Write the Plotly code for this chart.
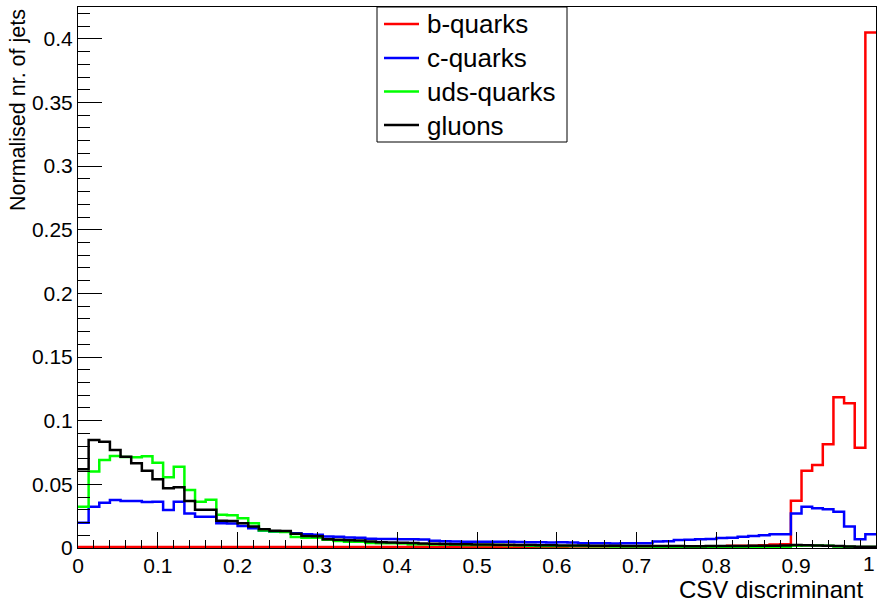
import numpy as np
import plotly.graph_objects as go

# CSV discriminant distributions, 75 equal-width bins on [0, 1]
n_bins = 75
edges = np.linspace(0.0, 1.0, n_bins + 1)

b_quarks = [
    0.0008, 0.0008, 0.0008, 0.0008, 0.0008, 0.0008, 0.0008, 0.0008, 0.0008, 0.0008,
    0.0008, 0.0008, 0.0008, 0.0008, 0.0008, 0.0008, 0.0008, 0.0008, 0.0008, 0.0008,
    0.0008, 0.0008, 0.0008, 0.0008, 0.0008, 0.0008, 0.0008, 0.0008, 0.0008, 0.0008,
    0.0008, 0.0009, 0.0009, 0.0009, 0.0009, 0.0009, 0.0009, 0.0009, 0.0009, 0.0009,
    0.0009, 0.0009, 0.0009, 0.0009, 0.0009, 0.0009, 0.0011, 0.0011, 0.0011, 0.0011,
    0.0011, 0.0011, 0.0011, 0.0011, 0.0011, 0.0011, 0.0014, 0.0014, 0.0014, 0.0014,
    0.0014, 0.0018, 0.0018, 0.0018, 0.0022, 0.0028, 0.0030, 0.0372, 0.0607, 0.0652,
    0.0815, 0.1184, 0.1137, 0.0788, 0.4050,
]

c_quarks = [
    0.0199, 0.0325, 0.0356, 0.0377, 0.0369, 0.0369, 0.0361, 0.0364, 0.0298, 0.0364,
    0.0272, 0.0246, 0.0246, 0.0194, 0.0192, 0.0173, 0.0155, 0.0136, 0.0128, 0.0127,
    0.0116, 0.0108, 0.0105, 0.0090, 0.0088, 0.0082, 0.0080, 0.0072, 0.0071, 0.0070,
    0.0068, 0.0068, 0.0067, 0.0056, 0.0054, 0.0051, 0.0050, 0.0050, 0.0049, 0.0050,
    0.0049, 0.0047, 0.0045, 0.0045, 0.0044, 0.0045, 0.0044, 0.0038, 0.0037, 0.0037,
    0.0036, 0.0037, 0.0037, 0.0038, 0.0052, 0.0053, 0.0063, 0.0064, 0.0068, 0.0071,
    0.0078, 0.0080, 0.0089, 0.0094, 0.0100, 0.0108, 0.0108, 0.0272, 0.0325, 0.0312,
    0.0304, 0.0285, 0.0168, 0.0068, 0.0108,
]

uds_quarks = [
    0.0325, 0.0600, 0.0691, 0.0723, 0.0715, 0.0712, 0.0720, 0.0670, 0.0555, 0.0639,
    0.0456, 0.0364, 0.0380, 0.0262, 0.0258, 0.0233, 0.0194, 0.0138, 0.0130, 0.0125,
    0.0086, 0.0081, 0.0080, 0.0065, 0.0055, 0.0050, 0.0049, 0.0040, 0.0038, 0.0037,
    0.0036, 0.0030, 0.0029, 0.0028, 0.0028, 0.0025, 0.0024, 0.0024, 0.0023, 0.0023,
    0.0022, 0.0021, 0.0017, 0.0016, 0.0016, 0.0015, 0.0015, 0.0015, 0.0014, 0.0013,
    0.0012, 0.0011, 0.0011, 0.0011, 0.0010, 0.0010, 0.0010, 0.0010, 0.0010, 0.0010,
    0.0010, 0.0010, 0.0010, 0.0010, 0.0010, 0.0010, 0.0010, 0.0018, 0.0020, 0.0019,
    0.0017, 0.0012, 0.0010, 0.0008, 0.0008,
]

gluons = [
    0.0618, 0.0848, 0.0835, 0.0770, 0.0717, 0.0665, 0.0607, 0.0540, 0.0469, 0.0477,
    0.0370, 0.0300, 0.0300, 0.0215, 0.0212, 0.0194, 0.0168, 0.0147, 0.0136, 0.0133,
    0.0112, 0.0095, 0.0092, 0.0068, 0.0064, 0.0060, 0.0058, 0.0052, 0.0046, 0.0044,
    0.0042, 0.0040, 0.0036, 0.0033, 0.0032, 0.0030, 0.0029, 0.0028, 0.0027, 0.0026,
    0.0025, 0.0024, 0.0023, 0.0022, 0.0021, 0.0020, 0.0019, 0.0019, 0.0018, 0.0018,
    0.0017, 0.0016, 0.0016, 0.0015, 0.0015, 0.0015, 0.0015, 0.0014, 0.0014, 0.0015,
    0.0015, 0.0016, 0.0016, 0.0017, 0.0017, 0.0018, 0.0019, 0.0024, 0.0022, 0.0020,
    0.0018, 0.0015, 0.0012, 0.0010, 0.0010,
]

series_names = ["b-quarks", "c-quarks", "uds-quarks", "gluons"]
series_values = [b_quarks, c_quarks, uds_quarks, gluons]
series_colors = ["#ff0000", "#0000ff", "#00ff00", "#000000"]

# x-axis labels; the last one sits at the right frame edge
x_tick_vals = [0.0, 0.1, 0.2, 0.3, 0.4, 0.5, 0.6, 0.7, 0.8, 0.9]
x_tick_text = ["0", "0.1", "0.2", "0.3", "0.4", "0.5", "0.6", "0.7", "0.8", "0.9"]
x_last_label = "1"

FONT = "Liberation Sans, Arial, Helvetica, sans-serif"

# plot-area geometry in pixels (used to place the boxed legend and titles)
W, H = 877, 604
ML, MR, MT, MB = 78, 1, 7, 56
PW, PH = W - ML - MR, H - MT - MB


def px_x(p):
    return (p - ML) / PW


def px_y(p):
    return (H - MB - p) / PH


fig = go.Figure()
for name, vals, color in zip(series_names, series_values, series_colors):
    # step outline: each bin drawn from its low edge to its high edge
    y = list(vals) + [vals[-1]]
    fig.add_trace(go.Scatter(
        x=edges, y=y, mode="lines", name=name, showlegend=False,
        line=dict(color=color, width=2.5, shape="hv"),
    ))

axis_common = dict(
    showgrid=False, zeroline=False, automargin=False,
    showline=True, linecolor="black", linewidth=1, mirror=True,
    ticks="inside", tickcolor="black", tickwidth=1,
    tickfont=dict(family=FONT, size=21, color="black"),
)

fig.update_xaxes(
    range=[0, 1], tickvals=x_tick_vals, ticktext=x_tick_text, ticklen=16,
    ticklabelstandoff=-1,
    minor=dict(dtick=0.02, ticks="inside", ticklen=8, tickcolor="black", tickwidth=1),
    **axis_common,
)
fig.update_yaxes(
    range=[0, 0.425], dtick=0.05, tick0=0, ticklen=24,
    minor=dict(dtick=0.01, ticks="inside", ticklen=12, tickcolor="black", tickwidth=1),
    **axis_common,
)

fig.add_annotation(
    text=x_last_label, xref="paper", yref="paper",
    x=px_x(876), y=px_y(563), xanchor="right", yanchor="middle", showarrow=False,
    borderpad=0, font=dict(family=FONT, size=21, color="black"),
)
fig.add_annotation(
    text="CSV discriminant", xref="paper", yref="paper",
    x=px_x(864), y=px_y(604), xanchor="right", yanchor="bottom", showarrow=False,
    borderpad=0, font=dict(family=FONT, size=24, color="black"),
)
fig.add_annotation(
    text="Normalised nr. of jets", xref="paper", yref="paper",
    x=px_x(18), y=1.0, xanchor="center", yanchor="top", textangle=-90,
    showarrow=False, font=dict(family=FONT, size=21.5, color="black"),
)

# boxed legend: frame, line samples and labels
shapes = [dict(
    type="rect", xref="paper", yref="paper",
    x0=px_x(377), x1=px_x(567), y0=px_y(142), y1=1.0,
    line=dict(color="black", width=1), fillcolor="white", layer="above",
)]
entry_y = [24, 58, 91.5, 125]
for name, color, ey in zip(series_names, series_colors, entry_y):
    shapes.append(dict(
        type="line", xref="paper", yref="paper",
        x0=px_x(384), x1=px_x(419), y0=px_y(ey), y1=px_y(ey),
        line=dict(color=color, width=2.5), layer="above",
    ))
    fig.add_annotation(
        text=name, xref="paper", yref="paper",
        x=px_x(425), y=px_y(ey + 0.5), xanchor="left", yanchor="middle",
        showarrow=False, font=dict(family=FONT, size=26, color="black"),
    )

fig.update_layout(
    width=W, height=H,
    margin=dict(l=ML, r=MR, t=MT, b=MB, autoexpand=False),
    plot_bgcolor="white", paper_bgcolor="white",
    font=dict(family=FONT, color="black"),
    shapes=shapes,
    showlegend=False,
)

fig.write_html("out.html")
